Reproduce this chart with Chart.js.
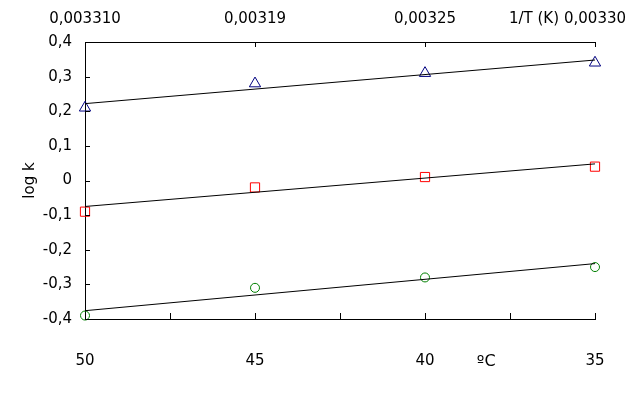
<!DOCTYPE html>
<html lang="pt-br">
<head>
    <meta charset="UTF-8">
    <title>log k x T</title>
    <script src="https://cdn.jsdelivr.net/npm/chart.js"></script>
    <style>
        body { margin: 0; background: #fff; }
        #box { width: 641px; height: 404px; }
    </style>
</head>
<body>
    <div id="box"><canvas id="grafico" width="641" height="404"></canvas></div>

<script>
    // dados
    const tempC = [50, 45, 40, 35]
    const invT = ['0,003310', '0,00319', '0,00325', '0,00330']
    const logkTri = [0.21, 0.28, 0.31, 0.34]
    const logkQuad = [-0.09, -0.02, 0.01, 0.04]
    const logkCirc = [-0.39, -0.31, -0.28, -0.25]

    // retas de ajuste (pontas)
    const ajusteX = [50, 35]
    const ajusteTri = [0.222, 0.348]
    const ajusteQuad = [-0.075, 0.048]
    const ajusteCirc = [-0.376, -0.24]

    const fonte = 'DejaVu Sans'
    Chart.defaults.font.family = fonte
    Chart.defaults.font.size = 15
    Chart.defaults.color = '#000'

    function pontos(xs, ys) {
        return xs.map((x, i) => ({ x: x, y: ys[i] }))
    }

    function serie(ys, cor, estilo, raio) {
        return {
            data: pontos(tempC, ys),
            showLine: false,
            pointStyle: estilo,
            pointRadius: raio,
            pointBorderColor: cor,
            pointBackgroundColor: 'rgba(0,0,0,0)',
            pointBorderWidth: 1,
            clip: false
        }
    }

    function reta(ys) {
        return {
            data: pontos(ajusteX, ys),
            showLine: true,
            borderColor: '#000',
            borderWidth: 1,
            pointRadius: 0,
            clip: false
        }
    }

    // marcas para dentro + textos soltos
    const marcas = {
        id: 'marcas',
        afterDraw(chart) {
            const ctx = chart.ctx
            const a = chart.chartArea
            const s = chart.scales
            ctx.save()
            ctx.strokeStyle = '#000'
            ctx.lineWidth = 1
            ctx.beginPath()
            s.x.ticks.forEach(t => {
                const px = Math.round(s.x.getPixelForValue(t.value)) + 0.5
                ctx.moveTo(px, a.bottom)
                ctx.lineTo(px, a.bottom - 6)
            })
            s.x2.ticks.forEach(t => {
                const px = Math.round(s.x2.getPixelForValue(t.value)) + 0.5
                ctx.moveTo(px, a.top)
                ctx.lineTo(px, a.top + 5)
            })
            s.y.ticks.forEach(t => {
                const py = Math.round(s.y.getPixelForValue(t.value)) + 0.5
                ctx.moveTo(a.left, py)
                ctx.lineTo(a.left + 5, py)
            })
            ctx.stroke()

            ctx.fillStyle = '#000'
            ctx.font = '15px "' + fonte + '"'
            ctx.textBaseline = 'middle'
            const xUlt = s.x2.getPixelForValue(tempC[tempC.length - 1])
            const larg = ctx.measureText(invT[invT.length - 1]).width
            ctx.textAlign = 'right'
            ctx.fillText('1/T (K)', xUlt - larg / 2 - 5, 19)
            ctx.textAlign = 'center'
            ctx.font = '16px "' + fonte + '"'
            ctx.fillText('ºC', s.x.getPixelForValue(38.2), 362)
            ctx.restore()
        }
    }

    const config = {
        type: 'scatter',
        data: {
            datasets: [
                reta(ajusteTri),
                reta(ajusteQuad),
                reta(ajusteCirc),
                serie(logkTri, '#000080', 'triangle', 6.5),
                serie(logkQuad, '#FF0000', 'rect', 6.5),
                serie(logkCirc, '#008000', 'circle', 4.5)
            ]
        },
        options: {
            responsive: false,
            animation: false,
            layout: { padding: { left: 21, right: 46 } },
            plugins: {
                legend: { display: false },
                tooltip: { enabled: false }
            },
            scales: {
                x: {
                    type: 'linear',
                    position: 'bottom',
                    min: 35,
                    max: 50,
                    reverse: true,
                    grid: { display: false, drawTicks: false },
                    border: { display: true, color: '#000', width: 1 },
                    ticks: {
                        stepSize: 2.5,
                        padding: 33,
                        maxRotation: 0,
                        callback: v => (v % 5 === 0 ? String(v) : '')
                    },
                    afterFit: s => { s.height = 85 }
                },
                x2: {
                    type: 'linear',
                    position: 'top',
                    min: 35,
                    max: 50,
                    reverse: true,
                    grid: { display: false, drawTicks: false },
                    border: { display: true, color: '#000', width: 1 },
                    afterBuildTicks: s => { s.ticks = tempC.map(v => ({ value: v })) },
                    ticks: {
                        padding: 14,
                        maxRotation: 0,
                        autoSkip: false,
                        callback: (v, i) => invT[i]
                    },
                    afterFit: s => { s.height = 42 }
                },
                y: {
                    min: -0.4,
                    max: 0.4,
                    grid: { display: false, drawTicks: false },
                    border: { display: true, color: '#000', width: 1 },
                    ticks: {
                        stepSize: 0.1,
                        padding: 13,
                        callback: v => (Math.abs(v) < 1e-9 ? '0' : v.toFixed(1).replace('.', ','))
                    },
                    title: { display: true, text: 'log k', padding: 0 },
                    afterFit: s => { s.width = 64 }
                }
            }
        },
        plugins: [marcas]
    }

    new Chart(document.getElementById('grafico'), config)
</script>
</body>
</html>
